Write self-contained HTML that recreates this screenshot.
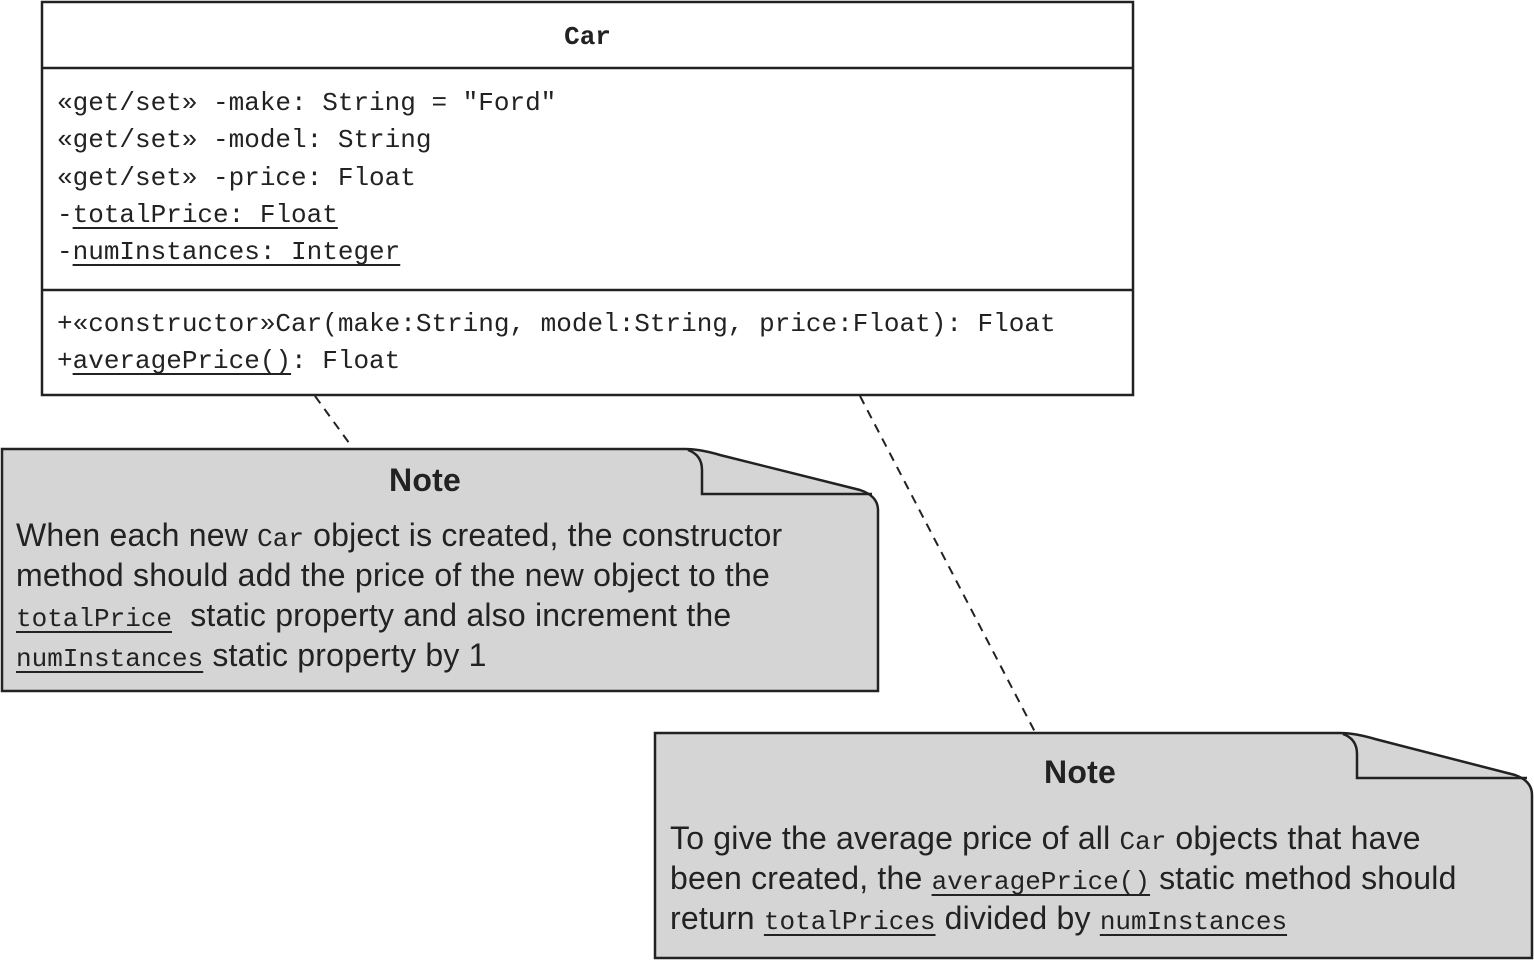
<!DOCTYPE html>
<html><head><meta charset="utf-8"><style>
body{margin:0;width:1534px;height:960px;background:#fff;position:relative;overflow:hidden}
svg{position:absolute;left:0;top:0}
.t{position:absolute;white-space:pre;color:#222}
.m{font-family:"Liberation Mono",monospace;font-size:26px;}
.s{font-family:"Liberation Sans",sans-serif;font-size:32px;letter-spacing:0.2px}
.u{text-decoration:underline;text-underline-offset:5px;text-decoration-thickness:1.5px}
.mm{font-family:"Liberation Mono",monospace;font-size:26px;line-height:0;letter-spacing:0}
</style></head><body>
<svg width="1534" height="960">
<rect x="42" y="2" width="1091" height="393" fill="#fff" stroke="#222" stroke-width="2.5"/>
<line x1="42" y1="68" x2="1133" y2="68" stroke="#222" stroke-width="2.5"/>
<line x1="42" y1="290" x2="1133" y2="290" stroke="#222" stroke-width="2.5"/>
<line x1="315" y1="396" x2="352" y2="447" stroke="#222" stroke-width="2" stroke-dasharray="9,7"/>
<line x1="860" y1="396" x2="1035" y2="732" stroke="#222" stroke-width="2" stroke-dasharray="9,7"/>
<path d="M2,449 L685,449 Q700,449 720,455 L860,490 Q878,496 878,510 L878,691 L2,691 Z" fill="#d5d5d6" stroke="#222" stroke-width="2.5"/>
<path d="M688,450 Q702,455 702,470 L702,494 L872,494" fill="none" stroke="#222" stroke-width="2.5"/>
<path d="M655,733 L1340,733 Q1355,733 1375,739 L1515,775 Q1532,781 1532,795 L1532,958 L655,958 Z" fill="#d5d5d6" stroke="#222" stroke-width="2.5"/>
<path d="M1343,734 Q1357,739 1357,754 L1357,778 L1527,778" fill="none" stroke="#222" stroke-width="2.5"/>
</svg>
<div class="t m" style="left:0;width:1175px;text-align:center;top:22px;font-weight:bold">Car</div>
<div class="t m" style="left:57px;top:85px;line-height:37.3px">«get/set» -make: String = "Ford"
«get/set» -model: String
«get/set» -price: Float
-<span class="u">totalPrice: Float</span>
-<span class="u">numInstances: Integer</span></div>
<div class="t m" style="left:57px;top:306px;line-height:37px">+«constructor»Car(make:String, model:String, price:Float): Float
+<span class="u">averagePrice()</span>: Float</div>
<div class="t s" style="left:0;width:850px;text-align:center;top:462px;font-weight:bold">Note</div>
<div class="t s" style="left:16px;top:515px;line-height:40px">When each new <span class="mm">Car</span> object is created, the constructor
method should add the price of the new object to the
<span class="mm u">totalPrice</span>  static property and also increment the
<span class="mm u">numInstances</span> static property by 1</div>
<div class="t s" style="left:655px;width:850px;text-align:center;top:754px;font-weight:bold">Note</div>
<div class="t s" style="left:670px;top:818px;line-height:40px">To give the average price of all <span class="mm">Car</span> objects that have
been created, the <span class="mm u">averagePrice()</span> static method should
return <span class="mm u">totalPrices</span> divided by <span class="mm u">numInstances</span></div>
</body></html>
